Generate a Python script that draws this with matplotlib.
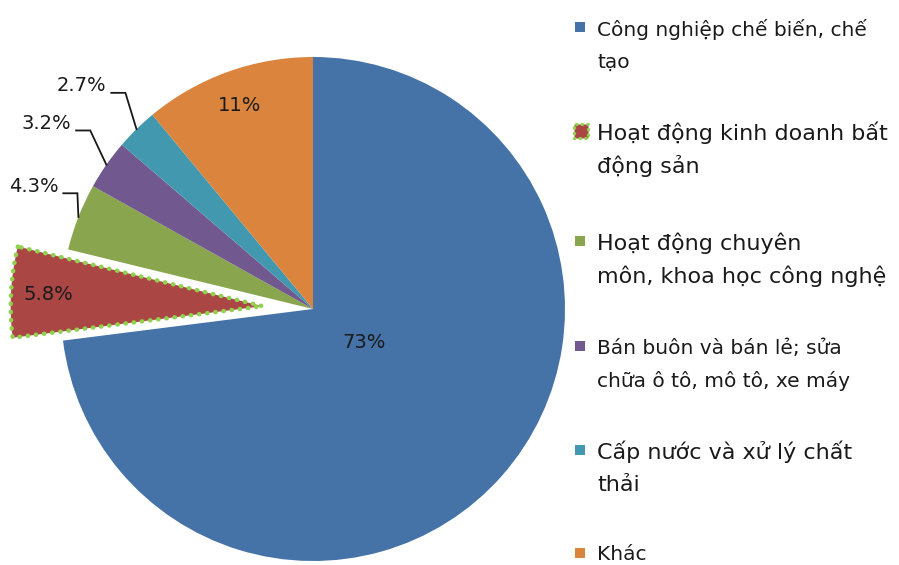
import numpy as np
import matplotlib.pyplot as plt
from matplotlib.patches import Rectangle

# data
labels = ['Công nghiệp chế biến, chế\ntạo',
          'Hoạt động kinh doanh bất\nđộng sản',
          'Hoạt động chuyên\nmôn, khoa học công nghệ',
          'Bán buôn và bán lẻ; sửa\nchữa ô tô, mô tô, xe máy',
          'Cấp nước và xử lý chất\nthải',
          'Khác']
values = [73, 5.8, 4.3, 3.2, 2.7, 11]
pct_text = ['73%', '5.8%', '4.3%', '3.2%', '2.7%', '11%']
colors = ['#4572A7', '#AA4643', '#89A54E', '#71588F', '#4198AF', '#DB843D']
explode = [0, 0.2, 0, 0, 0, 0]
legend_size = [14.5, 16, 16, 14.5, 16, 14.5]

W, H = 899, 565
fig = plt.figure(figsize=(W / 100, H / 100), dpi=100)

# pie axes: radius 1 = R px, centre at (cx, cy) image px
R, cx, cy = 252, 313, 309
half = 1.3 * R
ax = fig.add_axes([(cx - half) / W, (H - cy - half) / H, 2 * half / W, 2 * half / H])
wedges, _ = ax.pie(values, colors=colors, startangle=90, counterclock=False,
                   explode=explode, radius=1,
                   wedgeprops=dict(linewidth=0))
ax.set_xlim(-1.3, 1.3)
ax.set_ylim(-1.3, 1.3)
ax.axis('off')

# dotted green border on the exploded slice
w = wedges[1]
w.set_edgecolor('#92D050')
w.set_linewidth(3.2)
w.set_linestyle((0, (0.1, 1.75)))
w.set_capstyle('round')
w.set_joinstyle('round')

# labels inside slices: (distance, angle tweak in degrees)
inside = {0: (0.245, 8), 1: (0.85, 0), 5: (0.86, 0)}
for i, (r, dt) in inside.items():
    wd = wedges[i]
    mid = np.deg2rad((wd.theta1 + wd.theta2) / 2 + dt)
    ox, oy = wd.center
    ax.text(ox + r * np.cos(mid), oy + r * np.sin(mid), pct_text[i],
            ha='center', va='center', fontsize=14, color='#1a1a1a')

# leader-line labels for the small slices
elbow = {2: (-0.004, 0.094), 3: (-0.064, 0.136), 4: (-0.044, 0.144)}
for i, (dx, dy) in elbow.items():
    wd = wedges[i]
    mid = np.deg2rad((wd.theta1 + wd.theta2) / 2)
    x0, y0 = np.cos(mid), np.sin(mid)
    x1, y1 = x0 + dx, y0 + dy
    x2 = x1 - 0.056
    ax.plot([x0, x1, x2], [y0, y1, y1], color='#1a1a1a', lw=1.3,
            solid_joinstyle='miter', clip_on=False)
    ax.text(x2 - 0.02, y1 + 0.028, pct_text[i], ha='right', va='center',
            fontsize=14, color='#1a1a1a')

# legend, drawn by hand (mixed text sizes)
leg_y = [27, 131, 241, 346, 450, 553]
for i, lab in enumerate(labels):
    yc = leg_y[i]
    sq = 10
    if i == 1:
        rect = Rectangle(((581 - 7) / W, 1 - (yc + 7) / H), 14 / W, 14 / H,
                         transform=fig.transFigure, facecolor=colors[i],
                         edgecolor='#92D050', lw=2.4, linestyle=(0, (0.1, 1.6)),
                         capstyle='round')
    else:
        rect = Rectangle(((580 - sq / 2) / W, 1 - (yc + sq / 2) / H), sq / W, sq / H,
                         transform=fig.transFigure, facecolor=colors[i], lw=0)
    fig.patches.append(rect)
    for j, line in enumerate(lab.split('\n')):
        fig.text(597 / W, 1 - (yc + j * 33) / H, line, ha='left',
                 va='center_baseline', fontsize=legend_size[i], color='#1a1a1a')

fig.savefig('out.png', dpi=100, facecolor='white')
